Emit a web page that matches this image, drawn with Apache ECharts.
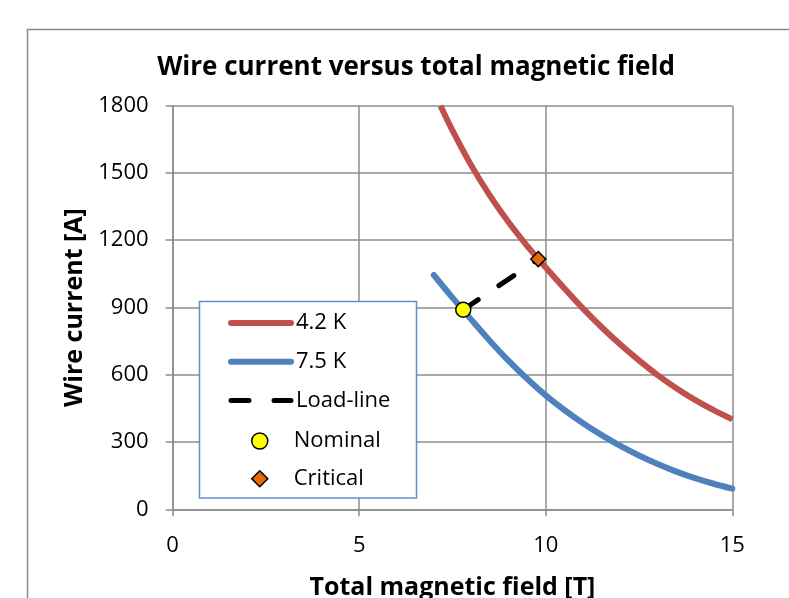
<!DOCTYPE html>
<html>
<head>
<meta charset="utf-8">
<script src="https://cdn.jsdelivr.net/npm/echarts@6/dist/echarts.min.js"></script>
<style>
html,body{margin:0;padding:0;background:#fff;overflow:hidden;}
#chart{width:789px;height:598px;}
</style>
</head>
<body>
<div id="chart"></div>
<script>
// ---- data ----
const fieldRed   = [7.18, 7.5, 8.0, 8.5, 9.0, 9.5, 10.0, 10.5, 11.0, 11.5, 12.0, 12.5, 13.0, 13.5, 14.0, 14.5, 15.0];
const current42K = [1800, 1690, 1535, 1400, 1281, 1175, 1078, 985, 895, 812, 735, 664, 598, 540, 488, 442, 401];

const fieldBlue  = [7.0, 7.5, 8.0, 8.5, 9.0, 9.5, 10.0, 10.5, 11.0, 11.5, 12.0, 12.5, 13.0, 13.5, 14.0, 14.5, 15.0];
const current75K = [1045, 944, 847, 752, 663, 582, 508, 443, 384, 331, 283, 240, 202, 168, 139, 114, 92];

const loadField   = [7.79, 9.80];
const loadCurrent = [890, 1116];

const nominalField = [7.79];
const nominalCurrent = [890];
const criticalField = [9.80];
const criticalCurrent = [1116];

const lineNames = ['4.2 K', '7.5 K', 'Load-line'];
const pointNames = ['Nominal', 'Critical'];
const xTicks = [0, 5, 10, 15];
const yTicks = [0, 300, 600, 900, 1200, 1500, 1800];

function pairs(xs, ys) { return xs.map((x, i) => [x, ys[i]]); }

const FONT = 'Open Sans';
const gridColor = '#8c8c8c';

const chart = echarts.init(document.getElementById('chart'), null, {renderer: 'canvas'});
chart.setOption({
  animation: false,
  backgroundColor: '#fff',
  textStyle: {fontFamily: FONT},
  title: {
    text: 'Wire current versus total magnetic field',
    left: 416, top: 55, textAlign: 'center', padding: 0,
    textStyle: {fontFamily: FONT, fontWeight: 'bold', fontSize: 26, color: '#000'}
  },
  graphic: [
    {type: 'rect', silent: true, z: -10,
     shape: {x: 27.5, y: 29.5, width: 900, height: 700},
     style: {fill: '#fff', stroke: '#8c8c8c', lineWidth: 1.5}},
    {type: 'rect', silent: true, z: 5,
     shape: {x: 199.5, y: 301.5, width: 217, height: 196.5},
     style: {fill: '#fff', stroke: '#5b8fcf', lineWidth: 1.5}}
  ],
  grid: {left: 172.6, right: 56.7, top: 105.7, bottom: 88.7, containLabel: false,
         outerBoundsMode: 'none'},
  legend: [
    {
      orient: 'vertical', left: 228, top: 312, z: 6,
      itemWidth: 60, itemHeight: 16, itemGap: 16.8, padding: 0,
      data: lineNames.map(n => ({name: n, itemStyle: {opacity: 0}})),
      textStyle: {fontFamily: FONT, fontSize: 22, color: '#000', lineHeight: 20},
      lineStyle: {width: 'inherit', cap: 'round'},
      selectedMode: false
    },
    {
      orient: 'vertical', left: 251, top: 430, z: 6,
      itemWidth: 16, itemHeight: 16, itemGap: 15.8, padding: 0,
      data: pointNames,
      textStyle: {fontFamily: FONT, fontSize: 22, color: '#000', lineHeight: 20, padding: [0, 0, 0, 21]},
      itemStyle: {borderWidth: 'inherit'},
      selectedMode: false
    }
  ],
  xAxis: {
    type: 'value', min: xTicks[0], max: xTicks[xTicks.length - 1], interval: 5,
    name: 'Total magnetic field [T]', nameLocation: 'middle', nameGap: 66,
    nameTextStyle: {fontFamily: FONT, fontWeight: 'bold', fontSize: 25, color: '#000'},
    axisLine: {show: true, lineStyle: {color: gridColor, width: 1.5}},
    axisTick: {show: true, inside: false, length: 7, lineStyle: {color: gridColor, width: 1.5}},
    axisLabel: {margin: 25, fontFamily: FONT, fontSize: 22, color: '#000'},
    splitLine: {show: true, lineStyle: {color: gridColor, width: 1.5}}
  },
  yAxis: {
    type: 'value', min: yTicks[0], max: yTicks[yTicks.length - 1], interval: 300,
    name: 'Wire current [A]', nameLocation: 'middle', nameGap: 83, nameRotate: 90,
    nameTextStyle: {fontFamily: FONT, fontWeight: 'bold', fontSize: 25, color: '#000'},
    axisLine: {show: true, lineStyle: {color: gridColor, width: 1.5}},
    axisTick: {show: true, inside: false, length: 7, lineStyle: {color: gridColor, width: 1.5}},
    axisLabel: {margin: 24, fontFamily: FONT, fontSize: 22, color: '#000',
                formatter: v => String(v)},
    splitLine: {show: true, lineStyle: {color: gridColor, width: 1.5}}
  },
  series: [
    {name: lineNames[0], type: 'line', data: pairs(fieldRed, current42K),
     symbol: 'none', smooth: 0.3, clip: true, z: 2,
     lineStyle: {color: '#c0504d', width: 6}, itemStyle: {color: '#c0504d'}},
    {name: lineNames[1], type: 'line', data: pairs(fieldBlue, current75K),
     symbol: 'none', smooth: 0.3, clip: true, z: 2,
     lineStyle: {color: '#4f81bd', width: 6, cap: 'round'}, itemStyle: {color: '#4f81bd'}},
    {name: lineNames[2], type: 'line', data: pairs(loadField, loadCurrent),
     symbol: 'none', z: 3,
     lineStyle: {color: '#000', width: 5, type: [18, 25], cap: 'round'}, itemStyle: {color: '#000'}},
    {name: pointNames[0], type: 'scatter', data: pairs(nominalField, nominalCurrent),
     symbol: 'circle', symbolSize: 15, z: 4,
     itemStyle: {color: '#ffff00', borderColor: '#000', borderWidth: 1.5, opacity: 1}},
    {name: pointNames[1], type: 'scatter', data: pairs(criticalField, criticalCurrent),
     symbol: 'diamond', symbolSize: 15, z: 4,
     itemStyle: {color: '#e36c09', borderColor: '#000', borderWidth: 1.5, opacity: 1}}
  ]
});
</script>
</body>
</html>
